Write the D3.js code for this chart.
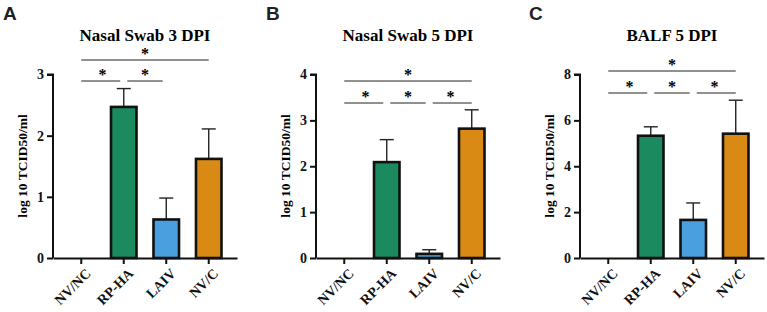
<!DOCTYPE html>
<html>
<head>
<meta charset="utf-8">
<script src="https://cdn.jsdelivr.net/npm/d3@7"></script>
<style>
  body { margin: 0; background: #fff; }
  svg { display: block; }
</style>
</head>
<body>
<div id="chart"></div>
<script>
// groups and colours
const groups = ['NV/NC', 'RP-HA', 'LAIV', 'NV/C'];
const colors = ['#ffffff', '#1b8a5f', '#4aa0df', '#d98a14'];

// panel values (mean, upper SD)
const titles = ['Nasal Swab 3 DPI', 'Nasal Swab 5 DPI', 'BALF 5 DPI'];
const letters = ['A', 'B', 'C'];
const meansA = [0, 2.47, 0.63, 1.62];
const errA = [0, 0.30, 0.35, 0.49];
const meansB = [0, 2.09, 0.09, 2.82];
const errB = [0, 0.49, 0.09, 0.41];
const meansC = [0, 5.33, 1.66, 5.42];
const errC = [0, 0.39, 0.74, 1.46];
const ticksA = [0, 1, 2, 3];
const ticksB = [0, 1, 2, 3, 4];
const ticksC = [0, 2, 4, 6, 8];

// significance: [from, to, level]
const sigA = [['NV/NC', 'RP-HA', 0], ['RP-HA', 'LAIV', 0], ['NV/NC', 'NV/C', 1]];
const sigB = [['NV/NC', 'RP-HA', 0], ['RP-HA', 'LAIV', 0], ['LAIV', 'NV/C', 0], ['NV/NC', 'NV/C', 1]];
const sigC = sigB;

const yLabel = 'log 10 TCID50/ml';

const W = 767, H = 312;
const SERIF = '"Liberation Serif", "Times New Roman", serif';

const panels = [
  { x0: 53, x1: 237, ymax: 3, means: meansA, err: errA, ticks: ticksA, sig: sigA, sigY: [81, 60], labelX: 22, letterX: 3 },
  { x0: 316, x1: 500, ymax: 4, means: meansB, err: errB, ticks: ticksB, sig: sigB, sigY: [103, 81], labelX: 285, letterX: 266 },
  { x0: 580, x1: 764, ymax: 8, means: meansC, err: errC, ticks: ticksC, sig: sigC, sigY: [93, 71], labelX: 549, letterX: 529 },
];

const svg = d3.select('#chart').append('svg')
  .attr('width', W)
  .attr('height', H);

panels.forEach((p, i) => {
  const g = svg.append('g');
  const y = d3.scaleLinear().domain([0, p.ymax]).range([258, 74.5]);
  const x = d3.scaleBand()
    .domain(groups)
    .range([p.x0, p.x1])
    .paddingInner(0.4)
    .paddingOuter(0.365);
  const cx = d => x(d) + x.bandwidth() / 2;

  // panel letter
  svg.append('text')
    .attr('x', p.letterX)
    .attr('y', 20)
    .attr('font-family', '"Liberation Sans", Arial, sans-serif')
    .attr('font-weight', 'bold')
    .attr('font-size', 19)
    .attr('fill', '#222')
    .text(letters[i]);

  // title
  g.append('text')
    .attr('x', (p.x0 + p.x1) / 2)
    .attr('y', 41)
    .attr('text-anchor', 'middle')
    .attr('font-family', SERIF)
    .attr('font-weight', 'bold')
    .attr('font-size', 17)
    .text(titles[i]);

  // y axis label
  g.append('text')
    .attr('transform', `translate(${p.labelX + 5}, 166) rotate(-90)`)
    .attr('text-anchor', 'middle')
    .attr('font-family', SERIF)
    .attr('font-weight', 'bold')
    .attr('font-size', 13.5)
    .text(yLabel);

  // bars
  const rows = groups.map((k, j) => ({ k, v: p.means[j], e: p.err[j], c: colors[j] }));
  const shown = rows.filter(d => d.v > 0);

  g.selectAll('.err')
    .data(shown)
    .join('line')
    .attr('x1', d => cx(d.k)).attr('x2', d => cx(d.k))
    .attr('y1', d => y(d.v)).attr('y2', d => y(d.v + d.e))
    .attr('stroke', '#222').attr('stroke-width', 1.4);
  g.selectAll('.cap')
    .data(shown)
    .join('line')
    .attr('x1', d => cx(d.k) - 7).attr('x2', d => cx(d.k) + 7)
    .attr('y1', d => y(d.v + d.e)).attr('y2', d => y(d.v + d.e))
    .attr('stroke', '#222').attr('stroke-width', 1.4);

  g.selectAll('.bar')
    .data(shown)
    .join('rect')
    .attr('x', d => x(d.k))
    .attr('width', x.bandwidth())
    .attr('y', d => y(d.v))
    .attr('height', d => y(0) - y(d.v))
    .attr('fill', d => d.c)
    .attr('stroke', '#111')
    .attr('stroke-width', 2.6);

  // y axis
  const yAxis = g.append('g')
    .attr('transform', `translate(${p.x0},0)`)
    .call(d3.axisLeft(y).tickValues(p.ticks).tickSize(6).tickPadding(3).tickFormat(d3.format('d')));
  yAxis.select('.domain').attr('stroke', '#111').attr('stroke-width', 2).attr('d', `M-6,${y(p.ymax)}H0V${y(0)}`);
  yAxis.selectAll('.tick line').attr('stroke', '#111').attr('stroke-width', 2);
  yAxis.selectAll('.tick text')
    .attr('font-family', SERIF).attr('font-weight', 'bold').attr('font-size', 14).attr('fill', '#111');

  // x axis
  const xAxis = g.append('g')
    .attr('transform', `translate(0,${y(0)})`)
    .call(d3.axisBottom(x).tickSize(6).tickSizeOuter(0));
  xAxis.select('.domain').attr('stroke', '#111').attr('stroke-width', 2);
  xAxis.selectAll('.tick line').attr('stroke', '#111').attr('stroke-width', 2);
  xAxis.selectAll('.tick text')
    .attr('font-family', SERIF).attr('font-weight', 'bold').attr('font-size', 14).attr('fill', '#111')
    .attr('text-anchor', 'end')
    .attr('dy', 0)
    .attr('transform', 'translate(4,10) rotate(-45)');

  // significance brackets
  p.sig.forEach(([a, b, lvl]) => {
    const ly = p.sigY[lvl];
    const gap = lvl === 0 ? 3.5 : 0;
    const xa = cx(a) + (groups.indexOf(a) > 0 ? gap : 0);
    const xb = cx(b) - (groups.indexOf(b) < groups.length - 1 ? gap : 0);
    g.append('line')
      .attr('x1', xa).attr('x2', xb)
      .attr('y1', ly).attr('y2', ly)
      .attr('stroke', '#222').attr('stroke-width', 1);
    g.append('text')
      .attr('x', (cx(a) + cx(b)) / 2)
      .attr('y', ly - 1)
      .attr('text-anchor', 'middle')
      .attr('font-family', SERIF)
      .attr('font-weight', 'bold')
      .attr('font-size', 16)
      .text('*');
  });
});
</script>
</body>
</html>
